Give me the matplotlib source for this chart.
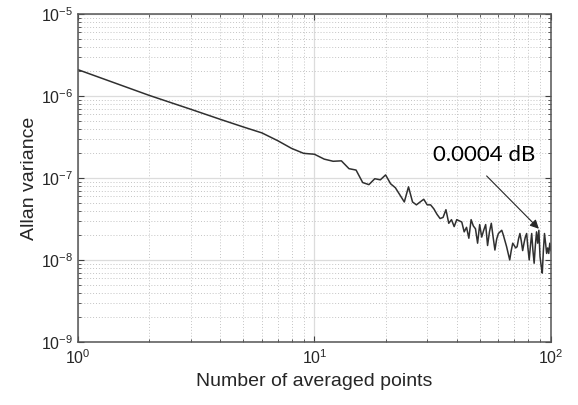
import matplotlib
matplotlib.use("Agg")
import matplotlib.pyplot as plt
from matplotlib.ticker import LogLocator, NullFormatter

plt.rcParams['font.family'] = ['Liberation Sans', 'DejaVu Sans']
plt.rcParams['mathtext.fontset'] = 'custom'
plt.rcParams['mathtext.rm'] = 'Liberation Sans'

# averaged points n = 1..100, Allan variance
n_points = list(range(1, 101))
allan_var = [
    2.1e-6, 1.02e-6, 6.9e-7, 5.2e-7, 4.2e-7, 3.55e-7, 2.85e-7, 2.3e-7, 2.0e-7, 1.95e-7,
    1.7e-7, 1.6e-7, 1.62e-7, 1.3e-7, 1.25e-7, 8.8e-8, 8.3e-8, 9.8e-8, 9.5e-8, 1.09e-7,
    8.5e-8, 7.6e-8, 6.2e-8, 5.1e-8, 7.8e-8, 5.1e-8, 4.7e-8, 5.1e-8, 5.5e-8, 4.7e-8,
    4.7e-8, 4.2e-8, 3.6e-8, 3.2e-8, 3.3e-8, 4.1e-8, 2.8e-8, 3.1e-8, 2.55e-8, 3.1e-8,
    3.0e-8, 2.9e-8, 2.2e-8, 2.5e-8, 1.84e-8, 3.1e-8, 2.6e-8, 2.4e-8, 1.6e-8, 2.7e-8,
    1.9e-8, 2.3e-8, 2.7e-8, 1.5e-8, 2.2e-8, 2.8e-8, 1.9e-8, 1.32e-8, 1.8e-8, 2.1e-8,
    2.2e-8, 2.3e-8, 2.0e-8, 1.7e-8, 1.45e-8, 1.2e-8, 1.0e-8, 1.3e-8, 1.6e-8, 1.5e-8,
    1.4e-8, 1.45e-8, 1.8e-8, 2.1e-8, 1.7e-8, 1.3e-8, 1.6e-8, 1.9e-8, 2.1e-8, 1.4e-8,
    1.0e-8, 1.5e-8, 2.1e-8, 1.3e-8, 9.1e-9, 1.5e-8, 2.2e-8, 1.6e-8, 2.3e-8, 1.1e-8,
    8.5e-9, 6.9e-9, 1.3e-8, 2.1e-8, 1.6e-8, 1.2e-8, 1.4e-8, 1.2e-8, 1.6e-8, 1.3e-8,
]

note_text = "0.0004 dB"
note_text_pos = (52, 1.9e-7)
arrow_tail = (53.5, 1.06e-7)
arrow_tip = (89, 2.4e-8)

fig = plt.figure(figsize=(5.78, 4.05), dpi=100)
ax = fig.add_axes([0.135, 0.156, 0.818, 0.809])

ax.loglog(n_points, allan_var, color='#303030', lw=1.1)

ax.set_xlim(1, 100)
ax.set_ylim(1e-9, 1e-5)
ax.xaxis.set_major_locator(LogLocator(base=10, numticks=5))
ax.yaxis.set_major_locator(LogLocator(base=10, numticks=10))
ax.xaxis.set_minor_locator(LogLocator(base=10, subs=range(2, 10), numticks=20))
ax.yaxis.set_minor_locator(LogLocator(base=10, subs=range(2, 10), numticks=20))
ax.xaxis.set_minor_formatter(NullFormatter())
ax.yaxis.set_minor_formatter(NullFormatter())

# matlab-like grid
ax.grid(which='major', color='#dcdcdc', lw=0.9, ls='-')
ax.grid(which='minor', color='#c4c4c4', lw=0.7, ls=(0, (1, 2)))
ax.set_axisbelow(True)

ax.tick_params(which='both', direction='in', top=True, right=True, colors='#404040',
               labelsize=11.5, labelcolor='#262626')
ax.tick_params(axis='x', pad=5)
ax.tick_params(which='major', length=4)
ax.tick_params(which='minor', length=2)
for s in ax.spines.values():
    s.set_color('#555555')
    s.set_linewidth(1.1)

ax.set_xlabel('Number of averaged points', fontsize=14, color='#262626', labelpad=4)
ax.set_ylabel('Allan variance', fontsize=14, color='#262626', labelpad=2)

ax.text(*note_text_pos, note_text, fontsize=16, family=['Lato', 'DejaVu Sans'],
        ha='center', va='center', color='black')
ax.annotate('', xy=arrow_tip, xytext=arrow_tail,
            arrowprops=dict(arrowstyle='-|>', color='#262626', lw=0.8, shrinkA=0, shrinkB=0,
                            mutation_scale=13))

fig.savefig('out.png', dpi=100)
